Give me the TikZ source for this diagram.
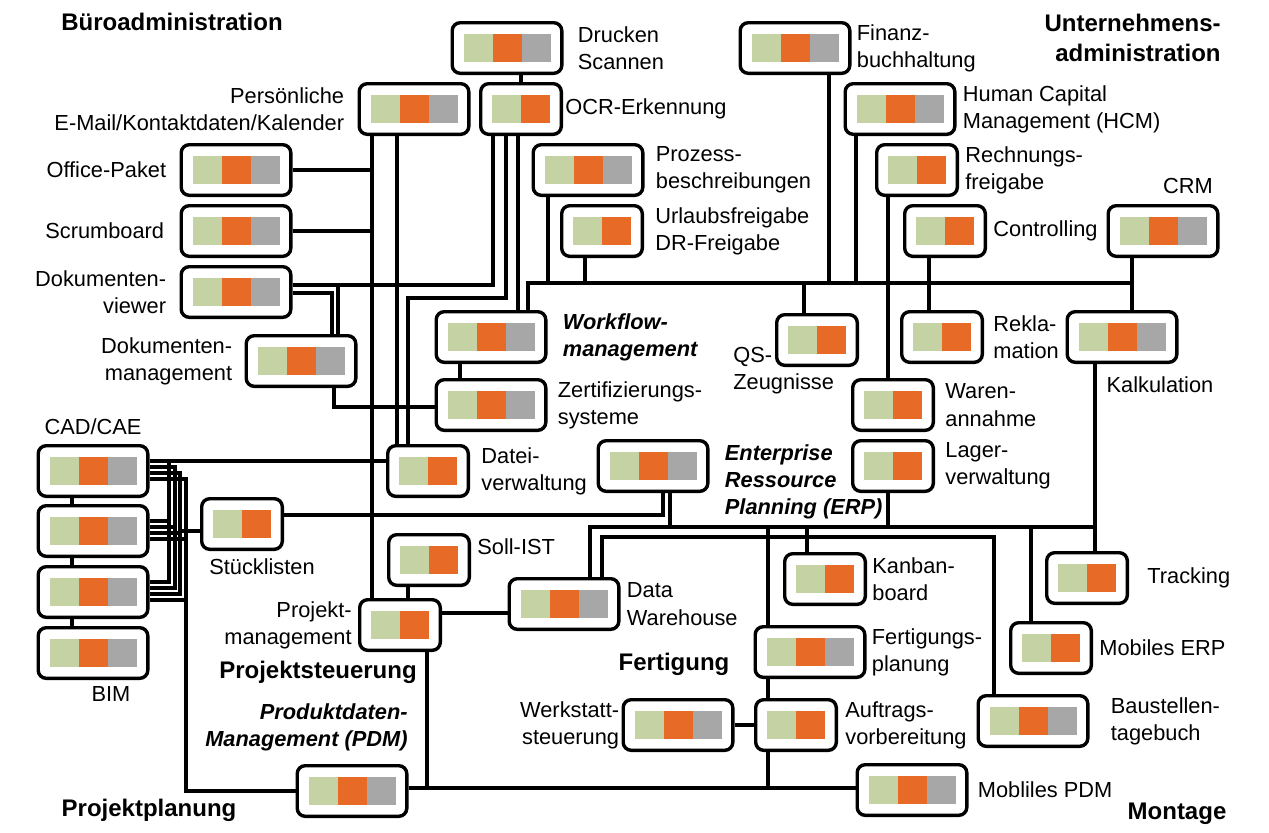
\documentclass[tikz,border=0pt]{standalone}
\usepackage{fontspec}
\setmainfont{Liberation Sans}
\usetikzlibrary{positioning}
\definecolor{cgreen}{RGB}{197,210,163}
\definecolor{corange}{RGB}{231,106,38}
\definecolor{cgray}{RGB}{167,167,167}
\newcommand{\tri}{\textcolor{cgreen}{\rule{14.5pt}{14pt}}\textcolor{corange}{\rule{14.5pt}{14pt}}\textcolor{cgray}{\rule{14.5pt}{14pt}}}
\newcommand{\duo}{\textcolor{cgreen}{\rule{14.5pt}{14pt}}\textcolor{corange}{\rule{14.5pt}{14pt}}}
\tikzset{
  mod/.style={draw, line width=1.7pt, rounded corners=4pt, fill=white, inner sep=5.65pt},
  wire/.style={line width=1.6pt},
  lbl/.style={inner sep=0pt, font=\fontsize{10.9}{13.6}\selectfont},
  lblbi/.style={lbl, font=\fontsize{10.9}{13.6}\selectfont\bfseries\itshape},
  hdr/.style={inner sep=0pt, font=\fontsize{12}{15}\selectfont\bfseries}
}

\begin{document}
\begin{tikzpicture}[x=0.5pt,y=-0.5pt]
			\useasboundingbox (0,0) rectangle (1269,832);
			\fill[white] (0,0) rectangle (1269,832);
			% modules
			\node[mod] (drucken) at (507,48) {\tri};
			\node[mod] (ocr) at (521,109) {\duo};
			\node[mod] (pers) at (414,109) {\tri};
			\node[mod] (office) at (236,170) {\tri};
			\node[mod] (scrum) at (236,231) {\tri};
			\node[mod] (dokv) at (236,292) {\tri};
			\node[mod] (dokm) at (301,361) {\tri};
			\node[mod] (cad1) at (93,471) {\tri};
			\node[mod] (cad2) at (93,531) {\tri};
			\node[mod] (cad3) at (93,592) {\tri};
			\node[mod] (cad4) at (93,653) {\tri};
			\node[mod] (stueck) at (242,524) {\duo};
			\node[mod] (wf) at (491,337) {\tri};
			\node[mod] (zert) at (491,405) {\tri};
			\node[mod] (datei) at (428,471) {\duo};
			\node[mod] (erp) at (653,466) {\tri};
			\node[mod] (proz) at (588,170) {\tri};
			\node[mod] (url) at (602,231) {\duo};
			\node[mod] (fibu) at (795,48) {\tri};
			\node[mod] (hcm) at (900,109) {\tri};
			\node[mod] (rech) at (917,170) {\duo};
			\node[mod] (contr) at (945,231) {\duo};
			\node[mod] (crm) at (1163,231) {\tri};
			\node[mod] (qs) at (817,340) {\duo};
			\node[mod] (rekla) at (942,337) {\duo};
			\node[mod] (kalk) at (1122,337) {\tri};
			\node[mod] (waren) at (893,405) {\duo};
			\node[mod] (lager) at (893,466) {\duo};
			\node[mod] (soll) at (429,560) {\duo};
			\node[mod] (pm) at (400,625) {\duo};
			\node[mod] (dw) at (564,604) {\tri};
			\node[mod] (kanban) at (825,579) {\duo};
			\node[mod] (fplan) at (810,652) {\tri};
			\node[mod] (werk) at (678,725) {\tri};
			\node[mod] (auftrag) at (796,725) {\duo};
			\node[mod] (pdm) at (352,791) {\tri};
			\node[mod] (mpdm) at (912,790) {\tri};
			\node[mod] (track) at (1087,578) {\duo};
			\node[mod] (merp) at (1051,648) {\duo};
			\node[mod] (baust) at (1033,721) {\tri};
			% columns and rows of the wiring
			\coordinate (xPA) at (372,0);
			\coordinate (xPB) at (397,0);
			\coordinate (xDA) at (332,0);
			\coordinate (xDB) at (338,0);
			\coordinate (xDC) at (334,0);
			\coordinate (xOA) at (493,0);
			\coordinate (xOB) at (506,0);
			\coordinate (xOC) at (518,0);
			\coordinate (xDT) at (408,0);
			\coordinate (xWZ) at (460,0);
			\coordinate (xBus) at (528,0);
			\coordinate (xPZ) at (548,0);
			\coordinate (xUF) at (585,0);
			\coordinate (xQS) at (804,0);
			\coordinate (xFB) at (829,0);
			\coordinate (xHC) at (856,0);
			\coordinate (xRW) at (888,0);
			\coordinate (xCO) at (929,0);
			\coordinate (xCRM) at (1132,0);
			\coordinate (xEA) at (663,0);
			\coordinate (xEB) at (670,0);
			\coordinate (xDWA) at (590,0);
			\coordinate (xDWB) at (602,0);
			\coordinate (xKT) at (1095,0);
			\coordinate (xME) at (1031,0);
			\coordinate (xKB) at (807,0);
			\coordinate (xFT) at (768,0);
			\coordinate (xBT) at (994,0);
			\coordinate (xSP) at (408,0);
			\coordinate (xPM) at (427,0);
			\coordinate (xCC) at (72,0);
			\coordinate (yTop) at (0,283);
			\coordinate (yDA) at (0,285);
			\coordinate (yDB) at (0,293);
			\coordinate (yOB) at (0,298);
			\coordinate (yDZ) at (0,407);
			\coordinate (ySE) at (0,515);
			\coordinate (yE1) at (0,527);
			\coordinate (yE2) at (0,537);
			\coordinate (yPD) at (0,613);
			\coordinate (yBot) at (0,788);
			% Bueroadministration
			\draw[wire] (drucken.south -| ocr.north) -- (ocr.north);
			\draw[wire] (pers.south -| xPA) -- (pm.north -| xPA);
			\draw[wire] (pers.south -| xPB) -- (datei.north -| xPB);
			\draw[wire] (office.east) -- (office.east -| xPA);
			\draw[wire] (scrum.east) -- (scrum.east -| xPA);
			\draw[wire] (dokv.east |- yDA) -| (ocr.south -| xOA);
			\draw[wire] (xDB |- yDA) -- (dokm.north -| xDB);
			\draw[wire] (dokv.east |- yDB) -| (dokm.north -| xDA);
			\draw[wire] (dokm.south -| xDC) |- (zert.west |- yDZ);
			\draw[wire] (ocr.south -| xOB) |- (xDT |- yOB) -- (datei.north -| xDT);
			\draw[wire] (ocr.south -| xOC) -- (wf.north -| xOC);
			\draw[wire] (wf.south -| xWZ) -- (zert.north -| xWZ);
			% Unternehmensadministration
			\draw[wire] (wf.north -| xBus) |- (xCRM |- yTop);
			\draw[wire] (crm.south -| xCRM) -- (kalk.north -| xCRM);
			\draw[wire] (proz.south -| xPZ) -- (xPZ |- yTop);
			\draw[wire] (url.south -| xUF) -- (xUF |- yTop);
			\draw[wire] (xQS |- yTop) -- (qs.north -| xQS);
			\draw[wire] (fibu.south -| xFB) -- (xFB |- yTop);
			\draw[wire] (hcm.south -| xHC) -- (xHC |- yTop);
			\draw[wire] (rech.south -| xRW) -- (waren.north -| xRW);
			\draw[wire] (contr.south -| xCO) -- (rekla.north -| xCO);
			% CAD/CAE bundle
			\draw[wire] (cad1.south -| xCC) -- (cad2.north -| xCC);
			\draw[wire] (cad2.south -| xCC) -- (cad3.north -| xCC);
			\draw[wire] (cad3.south -| xCC) -- (cad4.north -| xCC);
			\draw[wire] ([yshift=5pt]cad1.east) -- ([yshift=5pt]datei.west);
			\draw[wire] ([yshift=5pt]cad1.east) -- ++(19.5,0) |- ([yshift=5pt]cad3.east);
			\draw[wire] ([yshift=2pt]cad1.east) -- ++(25.5,0) |- ([yshift=2pt]cad3.east);
			\draw[wire] ([yshift=-1pt]cad1.east) -- ++(30.5,0) |- ([yshift=-1pt]cad3.east);
			\draw[wire] ([yshift=-4pt]cad1.east) -- ++(36.5,0) |- (pdm.west);
			\foreach \sh/\dd in {5pt/19.5, 2pt/25.5, -1pt/30.5, -4pt/36.5}
				\draw[wire] ([yshift=\sh]cad2.east) -- ++(\dd,0);
			\draw[wire] ([yshift=-4pt]cad3.east) -- ++(36.5,0);
			\draw[wire] ([yshift=-3.5pt]stueck.west) -- ++(-19,0);
			% ERP
			\draw[wire] (stueck.east |- ySE) -| (erp.south -| xEA);
			\draw[wire] (erp.south -| xEB) -- (xEB |- yE1);
			\draw[wire] (dw.north -| xDWA) |- (xKT |- yE1);
			\draw[wire] (kalk.south -| xKT) -- (track.north -| xKT);
			\draw[wire] (lager.south -| xRW) -- (xRW |- yE1);
			\draw[wire] (xME |- yE1) -- (merp.north -| xME);
			\draw[wire] (xKB |- yE1) -- (kanban.north -| xKB);
			\draw[wire] (xFT |- yE1) -- (fplan.north -| xFT);
			\draw[wire] (fplan.south -| xFT) -- (auftrag.north -| xFT);
			\draw[wire] (auftrag.south -| xFT) -- (xFT |- yBot);
			\draw[wire] (dw.north -| xDWB) |- (xBT |- yE2) -- (baust.north -| xBT);
			% Projektsteuerung
			\draw[wire] (soll.south -| xSP) -- (pm.north -| xSP);
			\draw[wire] (pm.east |- yPD) -- (dw.west |- yPD);
			\draw[wire] (pm.south -| xPM) -- (xPM |- yBot);
			\draw[wire] (werk.east) -- (auftrag.west);
			\draw[wire] (pdm.east |- yBot) -- (mpdm.west |- yBot);
			% labels
			\node[lbl, right=7pt of drucken, align=left] (drucken-l) {Drucken\\Scannen};
			\node[lbl, right=1pt of ocr] (ocr-l) {OCR-Erkennung};
			\node[lbl, left=6.5pt of pers, align=right] (pers-l) {Persönliche\\E-Mail/Kontaktdaten/Kalender};
			\node[lbl, left=6.5pt of office] (office-l) {Office-Paket};
			\node[lbl, left=7.5pt of scrum] (scrum-l) {Scrumboard};
			\node[lbl, left=6.5pt of dokv, align=right] (dokv-l) {Dokumenten-\\viewer};
			\node[lbl, left=6pt of dokm, align=right] (dokm-l) {Dokumenten-\\management};
			\node[lbl, above=4.5pt of cad1] (cad-l) {CAD/CAE};
			\node[lbl, below=3pt of cad4, xshift=9pt] (bim-l) {BIM};
			\node[lbl, below=3.5pt of stueck, xshift=10pt] (stueck-l) {Stücklisten};
			\node[lblbi, right=7.5pt of wf, align=left] (wf-l) {Workflow-\\management};
			\node[lbl, right=5pt of zert, align=left] (zert-l) {Zertifizierungs-\\systeme};
			\node[lbl, right=5.5pt of datei, align=left] (datei-l) {Datei-\\verwaltung};
			\node[lblbi, right=7.5pt of erp, align=left, yshift=-8pt] (erp-l) {Enterprise\\Ressource\\Planning (ERP)};
			\node[lbl, right=5.5pt of proz, align=left] (proz-l) {Prozess-\\beschreibungen};
			\node[lbl, right=5.5pt of url, align=left] (url-l) {Urlaubsfreigabe\\DR-Freigabe};
			\node[lbl, right=2.5pt of fibu, align=left] (fibu-l) {Finanz-\\buchhaltung};
			\node[lbl, right=3pt of hcm, align=left] (hcm-l) {Human Capital\\Management (HCM)};
			\node[lbl, right=3pt of rech, align=left] (rech-l) {Rechnungs-\\freigabe};
			\node[lbl, right=3pt of contr] (contr-l) {Controlling};
			\node[lbl, above=5pt of crm, xshift=12.5pt] (crm-l) {CRM};
			\node[lbl, anchor=north west, align=left] (qs-l) at (733,347) {QS-\\Zeugnisse};
			\node[lbl, right=4.5pt of rekla, align=left] (rekla-l) {Rekla-\\mation};
			\node[lbl, below=6pt of kalk, xshift=19pt] (kalk-l) {Kalkulation};
			\node[lbl, right=5pt of waren, align=left] (waren-l) {Waren-\\annahme};
			\node[lbl, right=5pt of lager, align=left] (lager-l) {Lager-\\verwaltung};
			\node[lbl, right=3pt of soll, yshift=6.5pt] (soll-l) {Soll-IST};
			\node[lbl, left=3pt of pm, align=right] (pm-l) {Projekt-\\management};
			\node[lbl, right=3pt of dw, align=left] (dw-l) {Data\\Warehouse};
			\node[lbl, right=2.5pt of kanban, align=left] (kanban-l) {Kanban-\\board};
			\node[lbl, right=2.5pt of fplan, align=left] (fplan-l) {Fertigungs-\\planung};
			\node[lbl, left=1pt of werk, align=right] (werk-l) {Werkstatt-\\steuerung};
			\node[lbl, right=3.5pt of auftrag, align=left] (auftrag-l) {Auftrags-\\vorbereitung};
			\node[lblbi, align=right, anchor=east] (pdm-l) at (408,727) {Produktdaten-\\Management (PDM)};
			\node[lbl, right=4.5pt of mpdm] (mpdm-l) {Mobliles PDM};
			\node[lbl, right=9pt of track] (track-l) {Tracking};
			\node[lbl, right=3pt of merp] (merp-l) {Mobiles ERP};
			\node[lbl, right=10.5pt of baust, align=left] (baust-l) {Baustellen-\\tagebuch};
			% areas
			\node[hdr] (h-buero) at (172,22) {Büroadministration};
			\node[hdr, align=right, anchor=east] (h-unt) at (1221,38) {Unternehmens-\\administration};
			\node[hdr] (h-steuer) at (318,672) {Projektsteuerung};
			\node[hdr] (h-fert) at (674,664) {Fertigung};
			\node[hdr] (h-plan) at (149,810) {Projektplanung};
			\node[hdr] (h-mont) at (1177,814) {Montage};
		\end{tikzpicture}
\end{document}
